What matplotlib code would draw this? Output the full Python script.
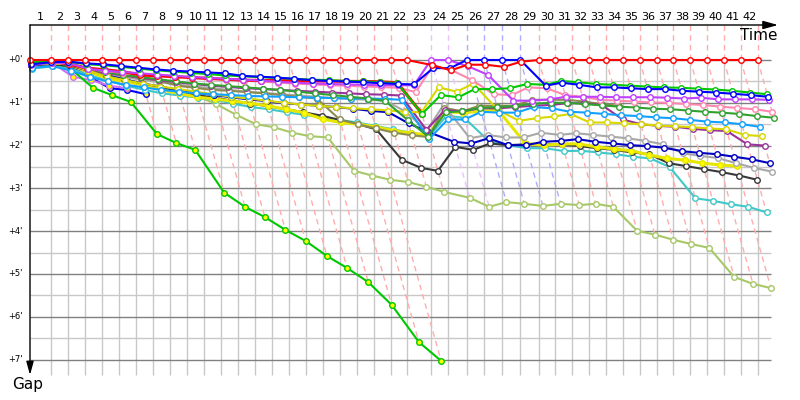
import numpy as np
import matplotlib.pyplot as plt

# leader lap times in seconds, laps 1..42
lap_times = [104, 86, 86, 84, 85, 86, 84, 85, 85, 84, 85, 85, 86, 85, 84, 86, 85, 84, 85, 85, 85,
             80, 121, 85, 93, 87, 90, 92, 91,
             84, 84, 85, 84, 84, 84, 85, 84, 84, 84, 84, 85, 84]

# gap to leader in minutes, index = lap (0 = start)
gap_red_w = [0] * 23 + [0.12, 0.24, 0.11, 0.11, 0.16, 0.04] + [0] * 14
gap_blue_w = [0.10, 0.05, 0.04, 0.08, 0.10, 0.14, 0.18, 0.22, 0.25, 0.27, 0.29, 0.31, 0.37, 0.39, 0.41,
              0.44, 0.47, 0.49, 0.50, 0.52, 0.54, 0.56, 0.57, 0.19, 0.19, 0, 0, 0, 0, 0.60, 0.53, 0.58,
              0.64, 0.64, 0.66, 0.68, 0.68, 0.72, 0.74, 0.76, 0.79, 0.82, 0.86]
gap_green_w = [0.05, 0.03, 0.04, 0.10, 0.12, 0.16, 0.20, 0.24, 0.27, 0.30, 0.33, 0.36, 0.38, 0.40, 0.42,
               0.44, 0.46, 0.47, 0.49, 0.50, 0.52, 0.54, 1.26, 0.82, 0.87, 0.68, 0.68, 0.66, 0.56, 0.58,
               0.49, 0.52, 0.56, 0.58, 0.60, 0.62, 0.64, 0.65, 0.67, 0.69, 0.72, 0.76, 0.80]
gap_magenta_w = [0.12, 0.06, 0.08, 0.20, 0.25, 0.28, 0.31, 0.34, 0.37, 0.40, 0.42, 0.44, 0.46, 0.48, 0.51,
                 0.53, 0.55, 0.56, 0.57, 0.58, 0.59, 0.59, 0.59, 0, 0, 0.15, 0.35, 0.95, 0.95, 0.92,
                 0.86, 0.86, 0.86, 0.87, 0.87, 0.87, 0.88, 0.90, 0.88, 0.92, 0.92, 0.92, 0.93]
gap_pink_w = [0.08, 0.06, 0.10, 0.20, 0.26, 0.30, 0.33, 0.36, 0.39, 0.42, 0.44, 0.46, 0.48, 0.50, 0.53,
              0.55, 0.57, 0.59, 0.60, 0.62, 0.63, 0.65, 0.75, 0.14, 0.23, 0.47, 0.80, 0.82, 0.64, 0.66,
              0.82, 0.86, 0.93, 0.95, 0.97, 0.99, 1.00, 1.03, 1.05, 1.09, 1.12, 1.15, 1.21]
gap_purple_w = [0.10, 0.06, 0.10, 0.22, 0.30, 0.36, 0.42, 0.47, 0.52, 0.56, 0.60, 0.63, 0.66, 0.68, 0.70,
                0.72, 0.74, 0.76, 0.78, 0.80, 0.81, 0.83, 1.63, 1.17, 1.20, 1.13, 1.13, 1.10, 1.07, 1.05,
                1.01, 1.01, 1.05, 1.39, 1.50, 1.54, 1.56, 1.61, 1.64, 1.66, 1.97, 2.00]
gap_dkgreen_w = [0.08, 0.06, 0.08, 0.20, 0.28, 0.35, 0.40, 0.45, 0.50, 0.55, 0.58, 0.61, 0.64, 0.67, 0.70,
                 0.74, 0.78, 0.82, 0.86, 0.90, 0.96, 1.40, 1.79, 1.22, 1.20, 1.12, 1.10, 1.08, 1.02, 1.00,
                 1.00, 1.03, 1.06, 1.09, 1.11, 1.14, 1.15, 1.18, 1.21, 1.23, 1.26, 1.31, 1.35]
gap_ltblue_w = [0.18, 0.14, 0.25, 0.40, 0.50, 0.58, 0.64, 0.70, 0.74, 0.78, 0.80, 0.82, 0.84, 0.85, 0.86,
                0.87, 0.88, 0.89, 0.90, 0.90, 0.91, 0.93, 1.85, 1.39, 1.39, 1.21, 1.23, 1.23, 1.10, 1.13,
                1.21, 1.23, 1.26, 1.29, 1.31, 1.34, 1.36, 1.40, 1.44, 1.46, 1.50, 1.56]
gap_yellow_w = [0.08, 0.08, 0.10, 0.25, 0.38, 0.47, 0.55, 0.62, 0.68, 0.74, 0.80, 0.86, 0.90, 0.95, 1.00,
                1.04, 1.07, 1.10, 1.13, 1.15, 1.18, 1.21, 1.22, 0.64, 0.74, 0.55, 1.17, 1.42, 1.36, 1.32,
                1.26, 1.46, 1.46, 1.48, 1.50, 1.53, 1.55, 1.57, 1.60, 1.62, 1.75, 1.78]
gap_navy_w = [0.12, 0.06, 0.12, 0.25, 0.36, 0.45, 0.55, 0.62, 0.70, 0.76, 0.82, 0.87, 0.92, 0.96, 1.01,
              1.04, 1.07, 1.10, 1.14, 1.19, 1.22, 1.48, 1.67, 1.91, 1.95, 1.83, 1.99, 1.99, 1.91, 1.89,
              1.85, 1.91, 1.95, 1.99, 2.01, 2.05, 2.13, 2.17, 2.20, 2.26, 2.32, 2.41]
gap_gray_w = [0.10, 0.08, 0.10, 0.22, 0.32, 0.40, 0.46, 0.52, 0.57, 0.62, 0.66, 0.70, 0.74, 0.77, 0.80,
              0.83, 0.86, 0.89, 0.91, 0.93, 0.95, 1.20, 1.65, 1.05, 1.83, 1.75, 1.81, 1.81, 1.70, 1.75,
              1.71, 1.75, 1.79, 1.83, 1.89, 1.97, 2.18, 2.24, 2.29, 2.41, 2.52, 2.61]
gap_black_w = [0.12, 0.10, 0.14, 0.28, 0.40, 0.50, 0.58, 0.66, 0.74, 0.82, 0.88, 0.95, 1.02, 1.08, 1.15,
               1.22, 1.30, 1.40, 1.50, 1.62, 2.33, 2.52, 2.59, 2.03, 2.10, 1.95, 1.99, 1.97, 1.97, 1.97,
               2.01, 2.06, 2.10, 2.16, 2.20, 2.41, 2.48, 2.55, 2.62, 2.70, 2.80]
gap_cyan_w = [0.20, 0.15, 0.20, 0.35, 0.48, 0.60, 0.70, 0.78, 0.83, 0.88, 0.93, 1.02, 1.10, 1.15, 1.22,
              1.28, 1.34, 1.40, 1.46, 1.54, 1.62, 1.70, 1.80, 1.30, 1.35, 1.91, 1.99, 2.06, 2.06, 2.13,
              2.12, 2.16, 2.20, 2.26, 2.30, 2.50, 3.23, 3.29, 3.37, 3.43, 3.56]
gap_olive_w = [0.15, 0.10, 0.12, 0.25, 0.35, 0.45, 0.55, 0.65, 0.74, 0.85, 1.03, 1.28, 1.50, 1.57, 1.70,
               1.78, 1.81, 2.59, 2.70, 2.80, 2.85, 2.96, 3.08, 3.22, 3.43, 3.32, 3.36, 3.41, 3.36, 3.39,
               3.36, 3.43, 3.99, 4.08, 4.20, 4.30, 4.39, 5.07, 5.23, 5.33]
gap_khaki_w = [0.10, 0.08, 0.10, 0.20, 0.28, 0.35, 0.42, 0.48, 0.60, 0.65, 0.70, 0.72, 0.75, 0.78, 0.82,
               0.86, 0.90, 1.39, 1.50, 1.60, 1.70, 1.76, 1.80, 1.12, 1.20, 1.07, 1.07, 1.07, 0.93, 0.93,
               0.93, 0.97, 1.03, 1.07]
gap_yellow_y = [0.05, 0.02, 0.12, 0.27, 0.43, 0.50, 0.58, 0.70, 0.78, 0.87, 0.91, 0.96, 1.01, 1.07, 1.15,
                1.23, 1.38, 1.46, 1.50, 1.56, 1.65, 1.71, 1.75, 1.21, 1.23, 1.20, 1.17, 1.95, 1.99, 1.96,
                1.96, 2.03, 2.08, 2.12, 2.22, 2.30, 2.34, 2.41, 2.45, 2.48]
gap_green_y = [0.12, 0.05, 0.20, 0.65, 0.82, 0.98, 1.73, 1.94, 2.10, 3.10, 3.43, 3.67, 3.97, 4.23, 4.58,
               4.86, 5.19, 5.72, 6.59, 7.03]
gap_red_y = [0.05, 0.02, 0.10, 0.19, 0.23, 0.27, 0.35, 0.37, 0.39, 0.41, 0.43, 0.45, 0.47, 0.48, 0.48,
             0.49, 0.49, 0.49, 0.50, 0.50, 0.51, 0.53, 1.25]
gap_magenta_y = [0.10, 0.05, 0.39, 0.47, 0.60, 0.66]
gap_blue_y = [0.12, 0.06, 0.15, 0.40, 0.66, 0.70, 0.80]

# (gaps, line colour, marker face, line width), leader first
cars = [
    (gap_red_w, '#ff0000', 'white', 1.5),
    (gap_blue_w, '#0000ff', 'white', 1.5),
    (gap_green_w, '#00c800', 'white', 1.5),
    (gap_magenta_w, '#c040ff', 'white', 1.5),
    (gap_red_y, '#ff0000', '#ffff00', 2.2),
    (gap_pink_w, '#ff88b0', 'white', 1.5),
    (gap_dkgreen_w, '#30a030', 'white', 1.5),
    (gap_ltblue_w, '#10a0ff', 'white', 1.5),
    (gap_yellow_w, '#d8d800', 'white', 1.5),
    (gap_purple_w, '#993399', 'white', 1.5),
    (gap_khaki_w, '#8c8c50', 'white', 1.5),
    (gap_navy_w, '#0000c0', 'white', 1.5),
    (gap_gray_w, '#a8a8a8', 'white', 1.5),
    (gap_yellow_y, '#e6e600', '#ffff00', 2.2),
    (gap_black_w, '#383838', 'white', 1.5),
    (gap_cyan_w, '#40c8c8', 'white', 1.5),
    (gap_olive_w, '#a8c868', 'white', 1.5),
    (gap_green_y, '#00c800', '#ffff00', 1.5),
    (gap_magenta_y, '#d070f0', '#ffff00', 1.5),
    (gap_blue_y, '#0000ff', '#ffff00', 1.5),
]

leader_time = np.concatenate([[0], np.cumsum(lap_times)]) / 60.0
n_laps = len(lap_times)

# pixel layout: x px = 30 + 12 * minutes, y px = 60 + 42.8 * gap
fig = plt.figure(figsize=(8, 4), dpi=100)
ax = fig.add_axes([0, 0, 1, 1])
ax.set_xlim(-2.5, 770 / 12)
ax.set_ylim(340 / 42.8, -60 / 42.8)
ax.axis('off')

y_axis_top = -35 / 42.8
y_axis_bot = 315 / 42.8
x_grid_end = 741 / 12

# grid
ax.hlines(np.arange(0.5, 7, 1), 0, x_grid_end, color='#c8c8c8', lw=1, zorder=1)
ax.vlines(leader_time[1:], 0, y_axis_bot, color='#c8c8c8', lw=1, zorder=1)
ax.hlines(np.arange(0, 8), 0, x_grid_end, color='#808080', lw=1, zorder=1)

# lap lines from the leader down to the last car on that lap
for lap in range(1, n_laps + 1):
    gaps_here = [c[0][lap] for c in cars if len(c[0]) > lap]
    lead_idx = min(range(len(cars)), key=lambda k: cars[k][0][lap] if len(cars[k][0]) > lap else 99)
    rgb = np.array(plt.matplotlib.colors.to_rgb(cars[lead_idx][1]))
    col = rgb + 0.68 * (1 - rgb)
    t = leader_time[lap]
    gmax = max(gaps_here)
    ax.plot([t, t], [y_axis_top, 0], color=col, lw=1, ls=(0, (4, 3)), zorder=2)
    ax.plot([t, t + gmax], [0, gmax], color=col, lw=1, ls=(0, (4, 3)), zorder=2)

# cars, leader drawn last so it sits on top
for k, (gaps, color, face, lw) in enumerate(reversed(cars)):
    laps = np.arange(len(gaps))
    g = np.array(gaps)
    ax.plot(leader_time[laps] + g, g, color=color, lw=lw, marker='o', ms=4.0,
            mfc=face, mec=color, mew=1.0, zorder=3 + k)

# axes with arrows
ax.annotate('', xy=(748 / 12, y_axis_top), xytext=(0, y_axis_top),
            arrowprops=dict(arrowstyle='-|>,head_length=0.9,head_width=0.25', color='black',
                            lw=1, shrinkA=0, shrinkB=0, mutation_scale=10), zorder=30)
ax.annotate('', xy=(0, y_axis_bot), xytext=(0, y_axis_top),
            arrowprops=dict(arrowstyle='-|>,head_length=0.8,head_width=0.22', color='black',
                            lw=1, shrinkA=0, shrinkB=0, mutation_scale=10), zorder=30)

for lap in range(1, n_laps + 1):
    xc = (leader_time[lap - 1] + leader_time[lap]) / 2
    ax.text(xc, -42.5 / 42.8, str(lap), ha='center', va='center', fontsize=8)

for m in range(8):
    ax.text(-7 / 12, m, "+%d'" % m, ha='right', va='center', fontsize=6)

ax.text(747 / 12, -25 / 42.8, 'Time', ha='right', va='center', fontsize=11)
ax.text(-18 / 12, 325 / 42.8, 'Gap', ha='left', va='center', fontsize=11)

plt.savefig('out.png', dpi=100)
